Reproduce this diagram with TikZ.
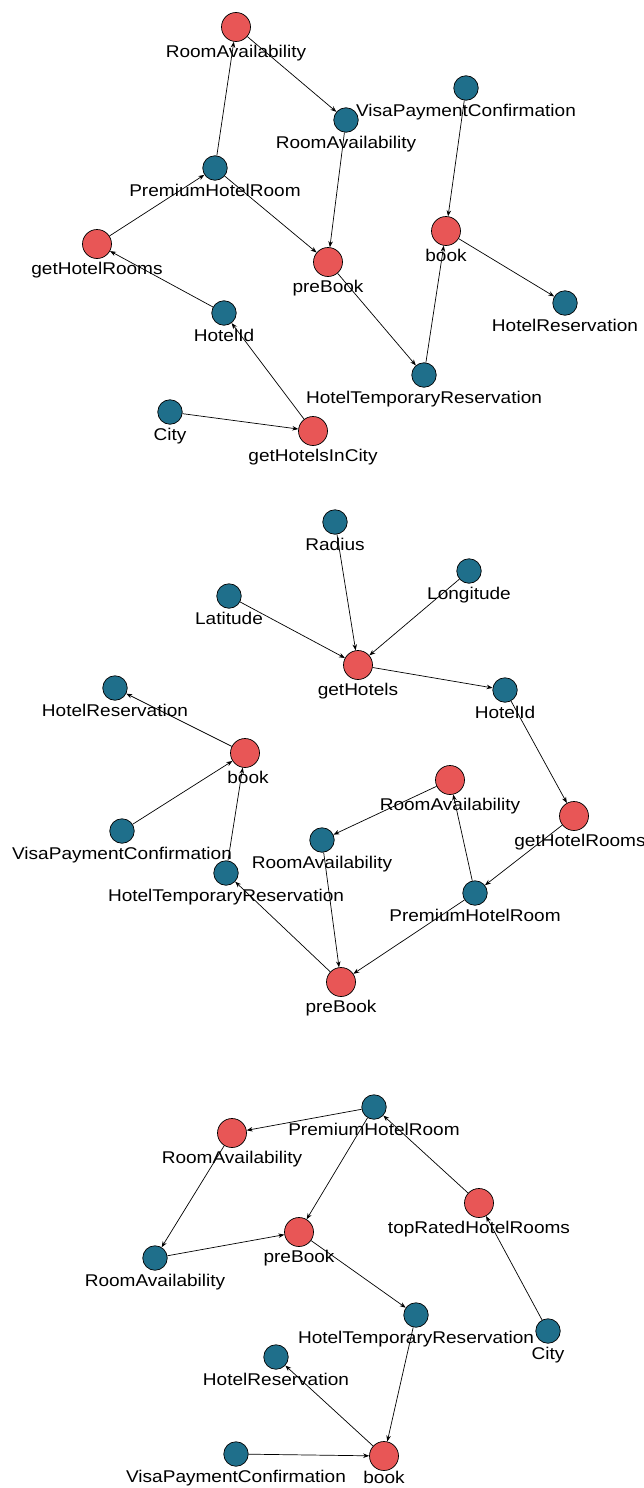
\documentclass[tikz,border=0pt]{standalone}
\usepackage{fontspec}
\newfontfamily\graphfont{Liberation Sans}[FakeStretch=1.12]
\usetikzlibrary{positioning,arrows.meta}
\definecolor{oprred}{RGB}{232,86,86}
\definecolor{dataBlue}{RGB}{31,111,139}
\tikzset{>={Stealth[length=6pt,width=4.5pt]}}
\tikzset{
	% operations (red) and data types (blue)
	opnode/.style={circle,draw=black,line width=0.7pt,fill=oprred,minimum size=29pt,inner sep=0pt},
	datanode/.style={circle,draw=black,line width=0.7pt,fill=dataBlue,minimum size=24.5pt,inner sep=0pt},
	every label/.style={font=\graphfont\fontsize{17}{20}\selectfont,inner sep=0pt,text height=12pt,text depth=3.5pt},
	label distance=3.5pt,
	% connector style
	link/.style={->,line width=0.7pt},
}
\begin{document}
\begin{tikzpicture}[x=1pt,y=-1pt]
\useasboundingbox (0,0) rectangle (644,1488);
% first graph
\node[opnode,label=below:{RoomAvailability}] (aroomop) at (236,27) {};
\node[datanode,label=below:{RoomAvailability}] (aroom) at (346,120) {};
\node[datanode,label=below:{VisaPaymentConfirmation}] (avisa) at (466,88) {};
\node[datanode,label=below:{PremiumHotelRoom}] (apremium) at (215,168) {};
\node[opnode,label=below:{getHotelRooms}] (agetrooms) at (97,244) {};
\node[opnode,label=below:{preBook}] (aprebook) at (328,262) {};
\node[opnode,label=below:{book}] (abook) at (446,231) {};
\node[datanode,label=below:{HotelReservation}] (aresv) at (565,303) {};
\node[datanode,label=below:{HotelId}] (ahotelid) at (224,313) {};
\node[datanode,label=below:{HotelTemporaryReservation}] (atemp) at (424,375) {};
\node[datanode,label=below:{City}] (acity) at (170,412) {};
\node[opnode,label=below:{getHotelsInCity}] (aincity) at (313,431) {};
\draw[link] (apremium) -- (aroomop);
\draw[link] (aroomop) -- (aroom);
\draw[link] (aroom) -- (aprebook);
\draw[link] (apremium) -- (aprebook);
\draw[link] (agetrooms) -- (apremium);
\draw[link] (ahotelid) -- (agetrooms);
\draw[link] (aincity) -- (ahotelid);
\draw[link] (acity) -- (aincity);
\draw[link] (aprebook) -- (atemp);
\draw[link] (atemp) -- (abook);
\draw[link] (avisa) -- (abook);
\draw[link] (abook) -- (aresv);
% second graph
\node[datanode,label=below:{Radius}] (bradius) at (335,522) {};
\node[datanode,label=below:{Longitude}] (blong) at (469,571) {};
\node[datanode,label=below:{Latitude}] (blat) at (229,596) {};
\node[opnode,label=below:{getHotels}] (bgethotels) at (358,665) {};
\node[datanode,label=below:{HotelId}] (bhotelid) at (505,690) {};
\node[datanode,label=below:{HotelReservation}] (bresv) at (115,688) {};
\node[opnode,label={[xshift=3pt]below:{book}}] (bbook) at (245,753) {};
\node[opnode,label=below:{RoomAvailability}] (broomop) at (450,780) {};
\node[opnode,label={[xshift=6pt]below:{getHotelRooms}}] (bgetrooms) at (574,816) {};
\node[datanode,label=below:{RoomAvailability}] (broom) at (322,840) {};
\node[datanode,label=below:{VisaPaymentConfirmation}] (bvisa) at (122,831) {};
\node[datanode,label=below:{HotelTemporaryReservation}] (btemp) at (226,873) {};
\node[datanode,label=below:{PremiumHotelRoom}] (bpremium) at (475,893) {};
\node[opnode,label=below:{preBook}] (bprebook) at (341,982) {};
\draw[link] (bradius) -- (bgethotels);
\draw[link] (blat) -- (bgethotels);
\draw[link] (blong) -- (bgethotels);
\draw[link] (bgethotels) -- (bhotelid);
\draw[link] (bhotelid) -- (bgetrooms);
\draw[link] (bgetrooms) -- (bpremium);
\draw[link] (bpremium) -- (broomop);
\draw[link] (bpremium) -- (bprebook);
\draw[link] (broomop) -- (broom);
\draw[link] (broom) -- (bprebook);
\draw[link] (bprebook) -- (btemp);
\draw[link] (btemp) -- (bbook);
\draw[link] (bvisa) -- (bbook);
\draw[link] (bbook) -- (bresv);
% third graph
\node[datanode,label=below:{PremiumHotelRoom}] (cpremium) at (374,1107) {};
\node[opnode,label=below:{RoomAvailability}] (croomop) at (232,1133) {};
\node[opnode,label=below:{topRatedHotelRooms}] (ctoprated) at (479,1203) {};
\node[opnode,label=below:{preBook}] (cprebook) at (299,1232) {};
\node[datanode,label=below:{RoomAvailability}] (croom) at (155,1258) {};
\node[datanode,label=below:{HotelTemporaryReservation}] (ctemp) at (416,1315) {};
\node[datanode,label=below:{City}] (ccity) at (548,1331) {};
\node[datanode,label=below:{HotelReservation}] (cresv) at (276,1357) {};
\node[datanode,label=below:{VisaPaymentConfirmation}] (cvisa) at (236,1454) {};
\node[opnode,label={[label distance=0.5pt]below:{book}}] (cbook) at (384,1456) {};
\draw[link] (cpremium) -- (croomop);
\draw[link] (cpremium) -- (cprebook);
\draw[link] (ctoprated) -- (cpremium);
\draw[link] (ccity) -- (ctoprated);
\draw[link] (croomop) -- (croom);
\draw[link] (croom) -- (cprebook);
\draw[link] (cprebook) -- (ctemp);
\draw[link] (ctemp) -- (cbook);
\draw[link] (cbook) -- (cresv);
\draw[link] (cvisa) -- (cbook);
\end{tikzpicture}
\end{document}
